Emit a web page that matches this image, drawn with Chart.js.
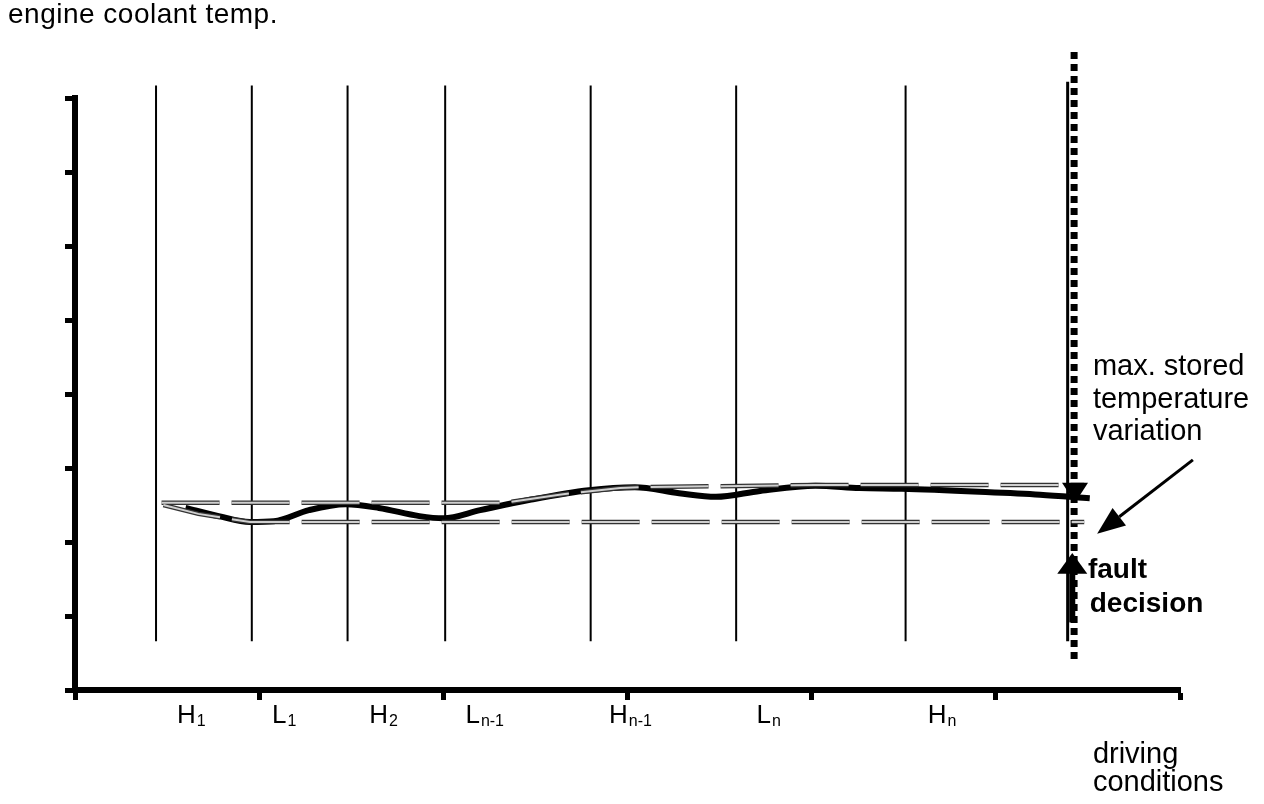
<!DOCTYPE html>
<html>
<head>
<meta charset="utf-8">
<script src="https://cdn.jsdelivr.net/npm/chart.js@4.4.0/dist/chart.umd.min.js"></script>
<style>
  html, body { margin: 0; padding: 0; background: #fff; }
  #wrap { width: 1264px; height: 804px; }
</style>
</head>
<body>
<div id="wrap"><canvas id="chart" width="1264" height="804"></canvas></div>
<script>
const FONT = '"Liberation Sans", Arial, sans-serif';

// coolant temperature trace (x = driving time, y = temperature, arbitrary units)
const tempX = [0.60, 0.78, 0.95, 1.08, 1.27, 1.47, 1.65, 1.87, 2.00, 2.20, 2.47, 2.79, 3.04, 3.28, 3.48, 3.72, 4.02, 4.26, 4.49, 4.91, 5.24, 5.51];
const tempY = [2.46, 2.35, 2.27, 2.28, 2.43, 2.51, 2.46, 2.35, 2.32, 2.43, 2.57, 2.70, 2.74, 2.66, 2.61, 2.69, 2.76, 2.73, 2.72, 2.68, 2.64, 2.59];

// stored max / min envelopes (dashed)
const maxX = [0.47, 2.33, 2.63, 2.96, 3.07, 4.02, 5.48];
const maxY = [2.53, 2.53, 2.64, 2.73, 2.74, 2.77, 2.77];
const minX = [0.48, 0.67, 0.95, 5.48];
const minY = [2.50, 2.38, 2.27, 2.27];

// boundaries between the H / L driving phases
const phaseBounds = [0.44, 0.96, 1.48, 2.01, 2.80, 3.59, 4.51];
const phaseTop = 8.17;
const phaseBottom = 0.66;

// fault decision moment
const decisionX = 5.39;
const decisionTop = 8.22;
const dottedX = 5.425;
const dottedTop = 8.62;
const dottedBottom = 0.38;

// phase labels under the x axis
const phaseNames = ['H', 'L', 'H', 'L', 'H', 'L', 'H'];
const phaseSubs = ['1', '1', '2', 'n-1', 'n-1', 'n', 'n'];
const phaseLabelX = [0.554, 1.07, 1.598, 2.12, 2.90, 3.70, 4.63];
const phaseLabelY = -0.45;

const xMin = 0, xMax = 6, yMin = 0, yMax = 8;

const pts = (xs, ys) => xs.map((v, i) => ({ x: v, y: ys[i] }));

const phaseData = [];
phaseBounds.forEach(b => {
    phaseData.push({ x: b, y: phaseTop }, { x: b, y: phaseBottom }, { x: b, y: null });
});

const base = { showLine: true, pointRadius: 0, fill: false, clip: false, spanGaps: false };
const DASH = [58, 12];

const notes = {
    id: 'notes',
    afterDatasetsDraw(chart) {
        const { ctx, scales: { x, y } } = chart;
        const px = v => x.getPixelForValue(v);
        const py = v => y.getPixelForValue(v);
        ctx.save();
        ctx.fillStyle = '#000';
        ctx.strokeStyle = '#000';
        ctx.textAlign = 'left';
        ctx.textBaseline = 'alphabetic';

        // y axis title
        ctx.font = '28px ' + FONT;
        ctx.letterSpacing = '0.5px';
        ctx.fillText('engine coolant temp.', 8, 23);
        ctx.letterSpacing = '0px';

        // phase labels with subscripts
        phaseNames.forEach((t, i) => {
            const lx = px(phaseLabelX[i]);
            const ly = py(phaseLabelY);
            ctx.font = '26px ' + FONT;
            ctx.fillText(t, lx, ly);
            const w = ctx.measureText(t).width;
            ctx.font = '16px ' + FONT;
            ctx.fillText(phaseSubs[i], lx + w + 1, ly + 3);
        });

        // x axis title
        ctx.font = '29px ' + FONT;
        ctx.fillText('driving', px(5.527), py(-0.99));
        ctx.fillText('conditions', px(5.527), py(-1.37));

        // annotation text
        ctx.fillText('max. stored', px(5.527), py(4.26));
        ctx.fillText('temperature', px(5.527), py(3.81));
        ctx.fillText('variation', px(5.527), py(3.38));
        ctx.font = 'bold 28px ' + FONT;
        ctx.fillText('fault', px(5.50), py(1.51));
        ctx.fillText('decision', px(5.51), py(1.05));

        // downward arrow head at stored max
        let tx = px(5.43), ty = py(2.53), by = py(2.80);
        ctx.beginPath();
        ctx.moveTo(tx, ty);
        ctx.lineTo(tx - 13, by);
        ctx.lineTo(tx + 13, by);
        ctx.closePath();
        ctx.fill();

        // upward fault decision arrow
        tx = px(5.415); ty = py(1.85); by = py(1.57);
        ctx.fillRect(tx - 3, by - 1, 6, py(0.90) - by);
        ctx.beginPath();
        ctx.moveTo(tx, ty);
        ctx.lineTo(tx - 15, by);
        ctx.lineTo(tx + 15, by);
        ctx.closePath();
        ctx.fill();

        // diagonal arrow pointing at the stored variation
        const x0 = px(6.07), y0 = py(3.11), x1 = px(5.55), y1 = py(2.11);
        const ang = Math.atan2(y1 - y0, x1 - x0);
        const hl = 28, hw = 11;
        const bx = x1 - hl * Math.cos(ang), byy = y1 - hl * Math.sin(ang);
        ctx.lineWidth = 3;
        ctx.beginPath();
        ctx.moveTo(x0, y0);
        ctx.lineTo(bx, byy);
        ctx.stroke();
        ctx.beginPath();
        ctx.moveTo(x1, y1);
        ctx.lineTo(bx + hw * Math.sin(ang), byy - hw * Math.cos(ang));
        ctx.lineTo(bx - hw * Math.sin(ang), byy + hw * Math.cos(ang));
        ctx.closePath();
        ctx.fill();

        ctx.restore();
    }
};

new Chart(document.getElementById('chart'), {
    type: 'scatter',
    data: {
        datasets: [
            { ...base, data: pts(maxX, maxY), borderColor: '#cfcfcf', borderWidth: 2, borderDash: DASH },
            { ...base, data: pts(minX, minY), borderColor: '#cfcfcf', borderWidth: 2, borderDash: DASH },
            { ...base, data: pts(maxX, maxY), borderColor: '#333', borderWidth: 4.5, borderDash: DASH },
            { ...base, data: pts(minX, minY), borderColor: '#333', borderWidth: 4.5, borderDash: DASH },
            { ...base, data: pts(tempX, tempY), borderColor: '#000', borderWidth: 6, cubicInterpolationMode: 'monotone' },
            { ...base, data: [{ x: dottedX, y: dottedTop }, { x: dottedX, y: dottedBottom }], borderColor: '#000', borderWidth: 7, borderDash: [7, 5], borderCapStyle: 'butt' },
            { ...base, data: [{ x: decisionX, y: decisionTop }, { x: decisionX, y: phaseBottom }], borderColor: '#000', borderWidth: 3 },
            { ...base, data: phaseData, borderColor: '#000', borderWidth: 2 }
        ]
    },
    options: {
        responsive: false,
        animation: false,
        layout: { padding: { left: 65, right: 84, top: 98, bottom: 104 } },
        plugins: { legend: { display: false }, tooltip: { enabled: false } },
        scales: {
            x: {
                type: 'linear', min: xMin, max: xMax,
                ticks: { display: false, stepSize: 1 },
                grid: { drawOnChartArea: false, drawTicks: true, tickLength: 10, tickWidth: 5, tickColor: '#000' },
                border: { display: true, color: '#000', width: 6 }
            },
            y: {
                type: 'linear', min: yMin, max: yMax,
                ticks: { display: false, stepSize: 1 },
                grid: { drawOnChartArea: false, drawTicks: true, tickLength: 10, tickWidth: 5, tickColor: '#000' },
                border: { display: true, color: '#000', width: 6 }
            }
        }
    },
    plugins: [notes]
});
</script>
</body>
</html>
